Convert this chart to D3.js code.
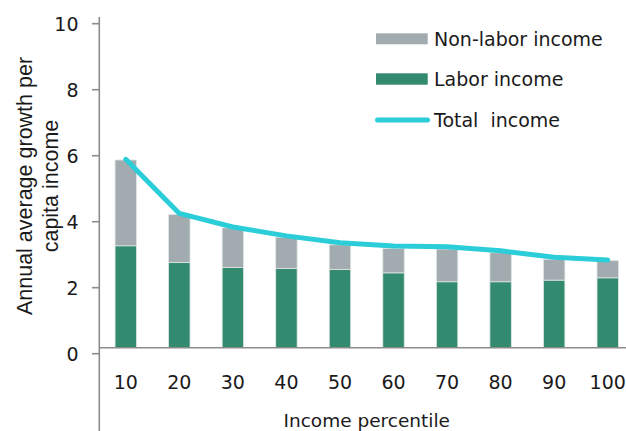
<!DOCTYPE html>
<html>
<head>
<meta charset="utf-8">
<script src="https://cdn.jsdelivr.net/npm/d3@7"></script>
<style>
  html, body { margin: 0; padding: 0; background: #fff; }
  svg { display: block; }
  text { font-family: "DejaVu Sans", sans-serif; fill: #1a1a1a; }
</style>
</head>
<body>
<svg id="chart" width="626" height="431"></svg>
<script>
// ---- data ----
const categories = ["10", "20", "30", "40", "50", "60", "70", "80", "90", "100"];
const laborIncome = [3.27, 2.76, 2.61, 2.58, 2.55, 2.45, 2.18, 2.18, 2.23, 2.30];
const nonLaborIncome = [2.60, 1.46, 1.20, 0.95, 0.75, 0.74, 0.99, 0.88, 0.63, 0.52];
const totalIncome = [5.89, 4.25, 3.84, 3.57, 3.36, 3.26, 3.24, 3.12, 2.92, 2.84];
const yTicks = [0, 2, 4, 6, 8, 10];
const legendLabels = ["Non-labor income", "Labor income", "Total  income"];
const yTitleLines = ["Annual average growth per", "capita income"];
const xTitle = "Income percentile";

// ---- styles ----
const colLabor = "#328b6f";
const colNonLabor = "#a2abb0";
const colTotal = "#2bced8";
const colAxis = "#8c8c8c";

const svg = d3.select("#chart");

const x = d3.scaleBand().domain(categories).range([99, 634.5])
  .paddingInner(0.6).paddingOuter(0.3);
const y = d3.scaleLinear().domain([0, 10]).range([353.7, 23.7]);
const axisY = 347.7;

const rows = categories.map((c, i) => ({
  cat: c, labor: laborIncome[i], nonlabor: nonLaborIncome[i], total: totalIncome[i]
}));

// bars
const bars = svg.append("g");
bars.selectAll("rect.labor").data(rows).join("rect")
  .attr("class", "labor")
  .attr("x", d => x(d.cat))
  .attr("width", x.bandwidth())
  .attr("y", d => y(d.labor))
  .attr("height", d => axisY - y(d.labor))
  .attr("fill", colLabor)
  .attr("stroke", "#dfe5e3").attr("stroke-width", 0.8);
bars.selectAll("rect.nonlabor").data(rows).join("rect")
  .attr("class", "nonlabor")
  .attr("x", d => x(d.cat))
  .attr("width", x.bandwidth())
  .attr("y", d => y(d.labor + d.nonlabor))
  .attr("height", d => y(d.labor) - y(d.labor + d.nonlabor))
  .attr("fill", colNonLabor)
  .attr("stroke", "#dfe5e3").attr("stroke-width", 0.8);

// axes lines
svg.append("line").attr("x1", 99.3).attr("x2", 99.3).attr("y1", 17).attr("y2", 431)
  .attr("stroke", colAxis).attr("stroke-width", 1.6);
svg.append("line").attr("x1", 99.3).attr("x2", 626).attr("y1", axisY).attr("y2", axisY)
  .attr("stroke", colAxis).attr("stroke-width", 1.6);

// y ticks
const yt = svg.append("g");
yt.selectAll("line").data(yTicks).join("line")
  .attr("x1", 92).attr("x2", 99.3)
  .attr("y1", d => y(d)).attr("y2", d => y(d))
  .attr("stroke", colAxis).attr("stroke-width", 1.6);
yt.selectAll("text").data(yTicks).join("text")
  .attr("x", 78.5).attr("y", d => y(d))
  .attr("dy", "0.36em")
  .attr("text-anchor", "end")
  .attr("font-size", 19)
  .text(d => d);

// x tick labels
svg.append("g").selectAll("text").data(categories).join("text")
  .attr("x", d => x(d) + x.bandwidth() / 2)
  .attr("y", 388.5)
  .attr("text-anchor", "middle")
  .attr("font-size", 19)
  .text(d => d);

// total line
const line = d3.line()
  .x((d, i) => x(categories[i]) + x.bandwidth() / 2)
  .y(d => y(d))
  .curve(d3.curveLinear);
svg.append("path").datum(totalIncome)
  .attr("d", line)
  .attr("fill", "none")
  .attr("stroke", colTotal)
  .attr("stroke-width", 5)
  .attr("stroke-linecap", "round")
  .attr("stroke-linejoin", "round");

// legend
const lg = svg.append("g");
lg.append("rect").attr("x", 376).attr("y", 33.3).attr("width", 51.7).attr("height", 11)
  .attr("fill", colNonLabor);
lg.append("rect").attr("x", 376).attr("y", 73.3).attr("width", 51.7).attr("height", 11.4)
  .attr("fill", colLabor);
lg.append("line").attr("x1", 377.5).attr("x2", 427.5).attr("y1", 120).attr("y2", 120)
  .attr("stroke", colTotal).attr("stroke-width", 5).attr("stroke-linecap", "round");
const legendY = [46, 86, 127];
lg.selectAll("text").data(legendLabels).join("text")
  .attr("x", 434).attr("y", (d, i) => legendY[i])
  .attr("font-size", 19)
  .attr("xml:space", "preserve")
  .style("white-space", "pre")
  .text(d => d);

// y title
const yTitle = svg.append("text")
  .attr("transform", "translate(31.7,186) rotate(-90)")
  .attr("text-anchor", "middle")
  .style("font-family", "'Liberation Sans', Arial, sans-serif")
  .attr("font-size", 21.5);
yTitle.selectAll("tspan").data(yTitleLines).join("tspan")
  .attr("x", 0).attr("dy", (d, i) => i === 0 ? 0 : 26.6)
  .text(d => d);

// x title
svg.append("text")
  .attr("x", (99 + 634.5) / 2).attr("y", 426.5)
  .attr("text-anchor", "middle")
  .attr("font-size", 18.5)
  .text(xTitle);
</script>
</body>
</html>
